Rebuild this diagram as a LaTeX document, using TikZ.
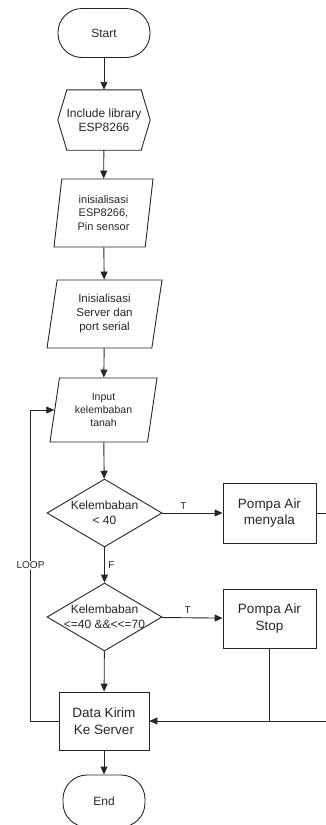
\documentclass[tikz,border=0pt]{standalone}
\usepackage{fontspec}
\setmainfont{Liberation Sans}
\usetikzlibrary{arrows.meta,shapes.geometric,calc}

\begin{document}
\begin{tikzpicture}
  [x=1pt,y=-1pt,
  every node/.style={text=black!85},
  line/.style={draw=black!85,line width=0.9pt},
  arr/.style={line,-{Triangle[length=8pt,width=7pt]}},
  term/.style={line,rectangle,rounded corners=24pt,minimum width=92pt,minimum height=49pt,font=\fontsize{12}{14.4}\selectfont},
  prep/.style={rectangle,minimum width=92pt,minimum height=60pt,align=center,font=\fontsize{12}{14.3}\selectfont},
  io/.style={line,trapezium,trapezium stretches body,inner sep=1pt,align=center,font=\fontsize{11}{13.3}\selectfont},
  decision/.style={line,diamond,inner sep=0pt,minimum width=115pt,minimum height=68pt},
  process/.style={line,rectangle,minimum width=93pt,minimum height=60pt,align=center,font=\fontsize{13.5}{16.5}\selectfont},
  lbl/.style={font=\fontsize{10}{12}\selectfont}]
  \useasboundingbox (0,0) rectangle (326,825);

  \node[term] (start) at (104,33) {Start};
  \node[prep] (lib) at (104,120) {Include library\\ESP8266};
  \draw[line] (lib.west) -- ($(lib.north west)+(9,0)$) -- ($(lib.north east)+(-9,0)$) -- (lib.east)
    -- ($(lib.south east)+(-9,0)$) -- ($(lib.south west)+(9,0)$) -- cycle;
  \node[io,trapezium left angle=78,trapezium right angle=102,minimum width=99pt,minimum height=68pt] (ini) at (103.5,213) {inisialisasi\\ESP8266,\\Pin sensor};
  \node[io,trapezium left angle=76,trapezium right angle=104,minimum width=115pt,minimum height=68pt,font=\fontsize{11.5}{14}\selectfont] (srv) at (104.5,314) {Inisialisasi\\Server dan\\port serial};
  \node[io,trapezium left angle=75,trapezium right angle=105,minimum width=107pt,minimum height=64pt,font=\fontsize{10.5}{13}\selectfont] (inp) at (103.5,410) {Input\\kelembaban\\tanah};
  \node[decision,label={[align=center,font=\fontsize{12}{15}\selectfont]center:Kelembaban\\< 40}] (d1) at (104.5,513) {};
  \node[process] (menyala) at (269.5,513) {Pompa Air\\menyala};
  \node[decision,label={[align=center,font=\fontsize{12}{15}\selectfont]center:Kelembaban\\<=40 \&\&<{}<=70}] (d2) at (104.5,617) {};
  \node[process,minimum height=59pt] (stop) at (269.5,618.5) {Pompa Air\\Stop};
  \node[process,minimum width=90pt,minimum height=58pt] (kirim) at (104,721) {Data Kirim\\Ke Server};
  \node[term,minimum width=82pt,minimum height=52pt] (end) at (104,801) {End};

  \coordinate (mright) at ($(menyala.east)+(25,0)$);
  \coordinate (lp) at ($(kirim.west)+(-28,0)$);

  \draw[arr] (start) -- (lib);
  \draw[arr] (lib) -- (ini);
  \draw[arr] (ini) -- (srv);
  \draw[arr] (srv) -- (inp);
  \draw[arr] (inp) -- (d1);
  \draw[arr] (d1) -- (menyala) node[lbl,pos=0.35,above] {T};
  \draw[arr] (d1) -- (d2) node[lbl,midway,right] {F};
  \draw[arr] (d2) -- (stop) node[lbl,pos=0.43,above] {T};
  \draw[arr] (d2) -- (kirim);
  \draw[line] (menyala.east) -- (mright) |- (kirim.east);
  \draw[arr] (stop) |- (kirim);
  \draw[arr] (kirim) -- (end);
  \draw[arr] (kirim.west) -- (lp) |- (inp.west) node[lbl,pos=0.25,fill=white,inner sep=1pt] {LOOP};
\end{tikzpicture}
\end{document}
